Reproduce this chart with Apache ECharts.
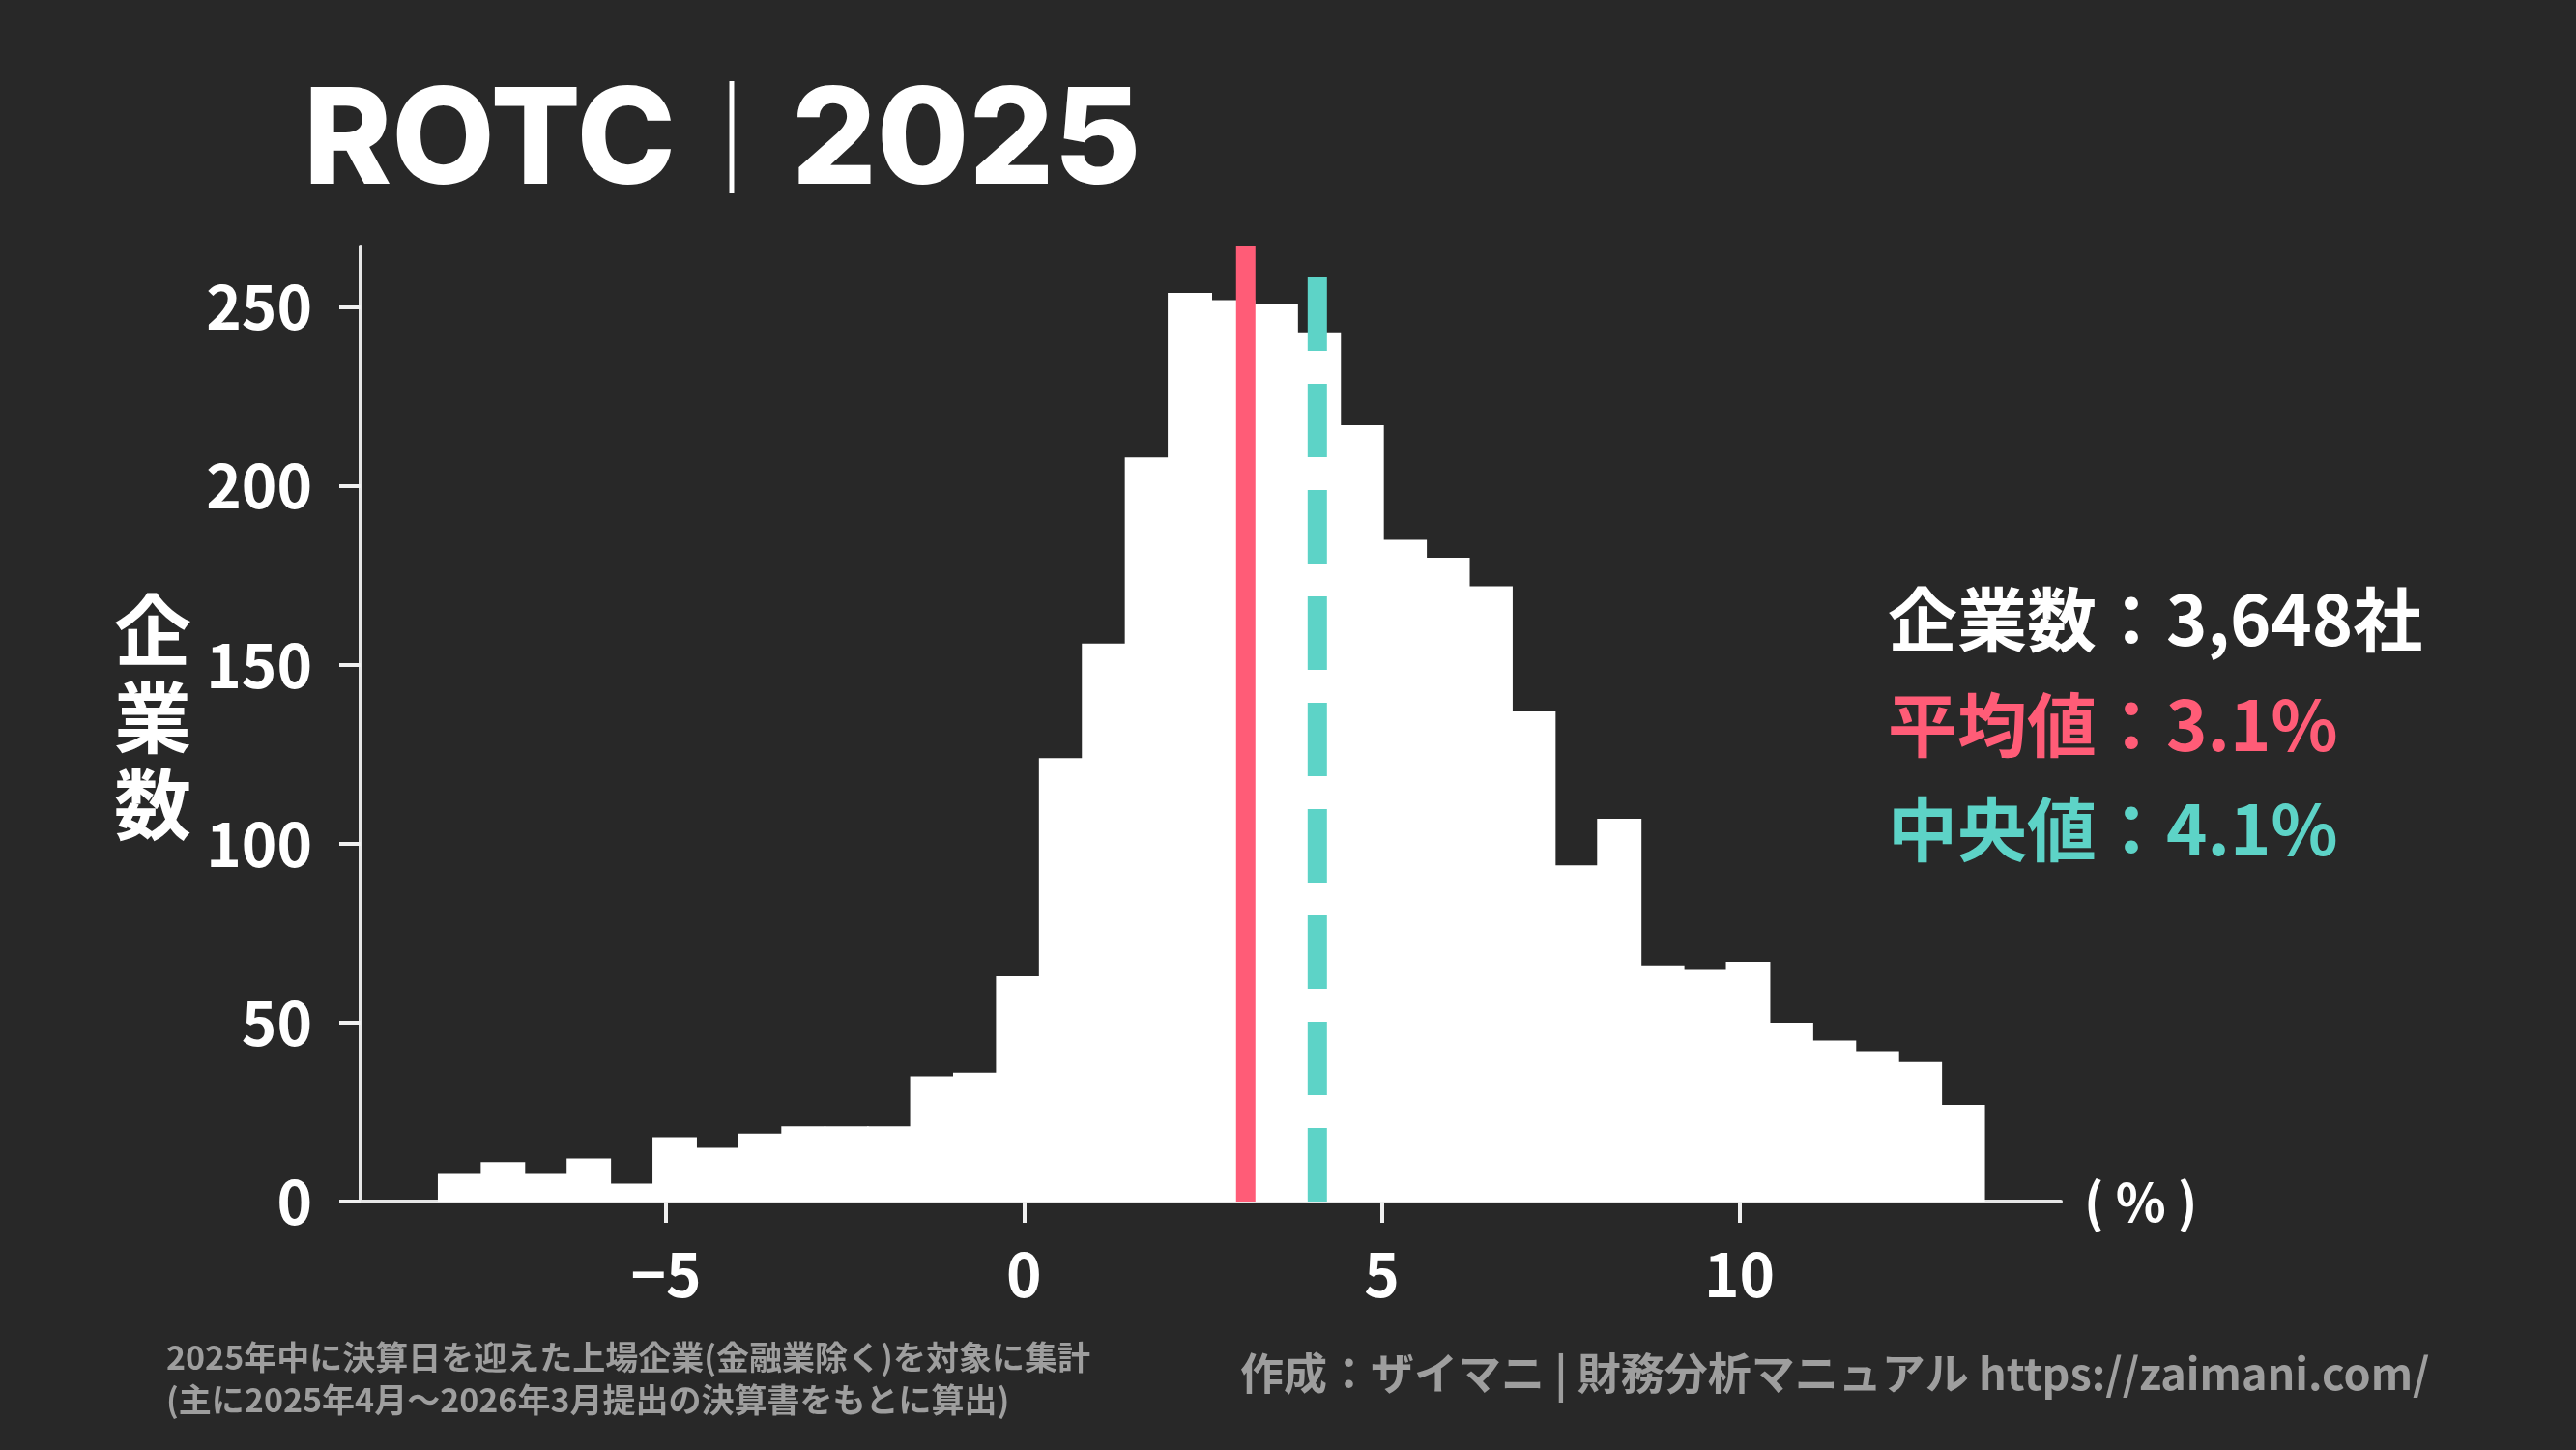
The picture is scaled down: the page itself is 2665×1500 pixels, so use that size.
<!DOCTYPE html>
<html lang="ja">
<head>
<meta charset="UTF-8">
<title>ROTC | 2025</title>
<script src="https://cdn.jsdelivr.net/npm/echarts@6/dist/echarts.min.js"></script>
<style>
    html, body { margin: 0; padding: 0; background: #282828; }
    #chart { width: 2665px; height: 1500px; }
</style>
</head>
<body>
<div id="chart"></div>
<script>
    // 階級の左端と幅 (%)
    var binStart = -8.19;
    var binWidth = 0.6;
    // 各階級の企業数
    var binCounts = [8, 11, 8, 12, 5, 18, 15, 19, 21, 21, 21, 35, 36, 63, 124, 156, 208,
                     254, 252, 251, 243, 217, 185, 180, 172, 137, 94, 107, 66, 65, 67,
                     50, 45, 42, 39, 27];
    var xTicks = [-5, 0, 5, 10];
    var yTicks = [0, 50, 100, 150, 200, 250];
    var meanValue = 3.1;
    var medianValue = 4.1;
    var companyCount = '3,648';

    var xMin = -9.27, xMax = 14.49, yMax = 267;
    var RED = '#ff5c77', TEAL = '#5dd3c7', BG = '#282828', GRAY = '#9e9e9e';
    var FONT = '"Noto Sans CJK JP", "Noto Sans", sans-serif';

    var histData = binCounts.map(function (c, i) {
        var x0 = binStart + i * binWidth;
        return [x0, x0 + binWidth, c];
    });

    var chart = echarts.init(document.getElementById('chart'));

    chart.setOption({
        backgroundColor: BG,
        animation: false,
        grid: { left: 373, right: 533, top: 255, bottom: 257 },
        xAxis: {
            type: 'value', min: xMin, max: xMax, offset: 4,
            splitLine: { show: false },
            axisLine: { lineStyle: { color: '#e6e6e6', width: 4 } },
            axisTick: { customValues: xTicks, length: 22, lineStyle: { color: '#f0f0f0', width: 4 } },
            axisLabel: {
                customValues: xTicks, margin: 40, color: '#fff', fontSize: 62, fontWeight: 'bold', fontFamily: FONT,
                formatter: function (v) { return v < 0 ? '\u2212' + Math.abs(v) : String(v); }
            },
            name: '( % )', nameLocation: 'end', nameGap: 24,
            nameTextStyle: { color: '#fff', fontSize: 54, fontWeight: 'bold', fontFamily: FONT, verticalAlign: 'middle' }
        },
        yAxis: {
            type: 'value', min: 0, max: yMax,
            splitLine: { show: false },
            axisLine: { show: true, onZero: false, lineStyle: { color: '#e6e6e6', width: 4 } },
            axisTick: { show: true, customValues: yTicks, length: 22, lineStyle: { color: '#f0f0f0', width: 4 } },
            axisLabel: { customValues: yTicks, margin: 50, color: '#fff', fontSize: 62, fontWeight: 'bold', fontFamily: FONT }
        },
        series: [
            {
                type: 'custom',
                data: histData,
                encode: { x: [0, 1], y: 2 },
                renderItem: function (params, api) {
                    var p0 = api.coord([api.value(0), api.value(2)]);
                    var p1 = api.coord([api.value(1), 0]);
                    return {
                        type: 'rect',
                        shape: { x: p0[0], y: p0[1], width: p1[0] - p0[0] + 1.5, height: p1[1] - p0[1] },
                        style: { fill: '#ffffff' }
                    };
                },
                z: 2
            },
            {
                type: 'line', data: [[meanValue, 0], [meanValue, yMax]],
                showSymbol: false, silent: true, z: 3,
                lineStyle: { color: RED, width: 20, cap: 'butt' }
            },
            {
                type: 'line', data: [[medianValue, 0], [medianValue, yMax]],
                showSymbol: false, silent: true, z: 3,
                lineStyle: { color: TEAL, width: 20, type: [76, 34], cap: 'butt' }
            }
        ],
        graphic: [
            {
                type: 'text', left: 314, top: 80,
                style: {
                    text: '{a|ROTC}{b|｜}{a|2025}',
                    rich: {
                        a: { fontFamily: 'Inter, "Liberation Sans", sans-serif', fontWeight: 800, fontSize: 138, fill: '#fff', verticalAlign: 'middle' },
                        b: { fontFamily: FONT, fontWeight: 'normal', fontSize: 116, fill: '#fff', verticalAlign: 'middle', padding: [0, 4, 14, 0] }
                    }
                }
            },
            {
                type: 'text', x: 158, y: 742,
                style: {
                    text: '企\n業\n数', fontFamily: FONT, fontWeight: 'bold', fontSize: 80, lineHeight: 90,
                    fill: '#fff', align: 'center', verticalAlign: 'middle'
                }
            },
            {
                type: 'text', x: 1953, y: 641,
                style: { text: '企業数：' + companyCount + '社', fontFamily: FONT, fontWeight: 'bold', fontSize: 72, fill: '#fff', verticalAlign: 'middle' }
            },
            {
                type: 'text', x: 1953, y: 750,
                style: { text: '平均値：' + meanValue.toFixed(1) + '%', fontFamily: FONT, fontWeight: 'bold', fontSize: 72, fill: RED, verticalAlign: 'middle' }
            },
            {
                type: 'text', x: 1953, y: 858,
                style: { text: '中央値：' + medianValue.toFixed(1) + '%', fontFamily: FONT, fontWeight: 'bold', fontSize: 72, fill: TEAL, verticalAlign: 'middle' }
            },
            {
                type: 'text', x: 172, y: 1404,
                style: { text: '2025年中に決算日を迎えた上場企業(金融業除く)を対象に集計', fontFamily: FONT, fontWeight: 'bold', fontSize: 34, fill: GRAY, verticalAlign: 'middle' }
            },
            {
                type: 'text', x: 172, y: 1448,
                style: { text: '(主に2025年4月〜2026年3月提出の決算書をもとに算出)', fontFamily: FONT, fontWeight: 'bold', fontSize: 34, fill: GRAY, verticalAlign: 'middle' }
            },
            {
                type: 'text', x: 1283, y: 1421,
                style: { text: '作成：ザイマニ | 財務分析マニュアル https://zaimani.com/', fontFamily: FONT, fontWeight: 'bold', fontSize: 45, fill: GRAY, verticalAlign: 'middle' }
            }
        ]
    });
</script>
</body>
</html>
